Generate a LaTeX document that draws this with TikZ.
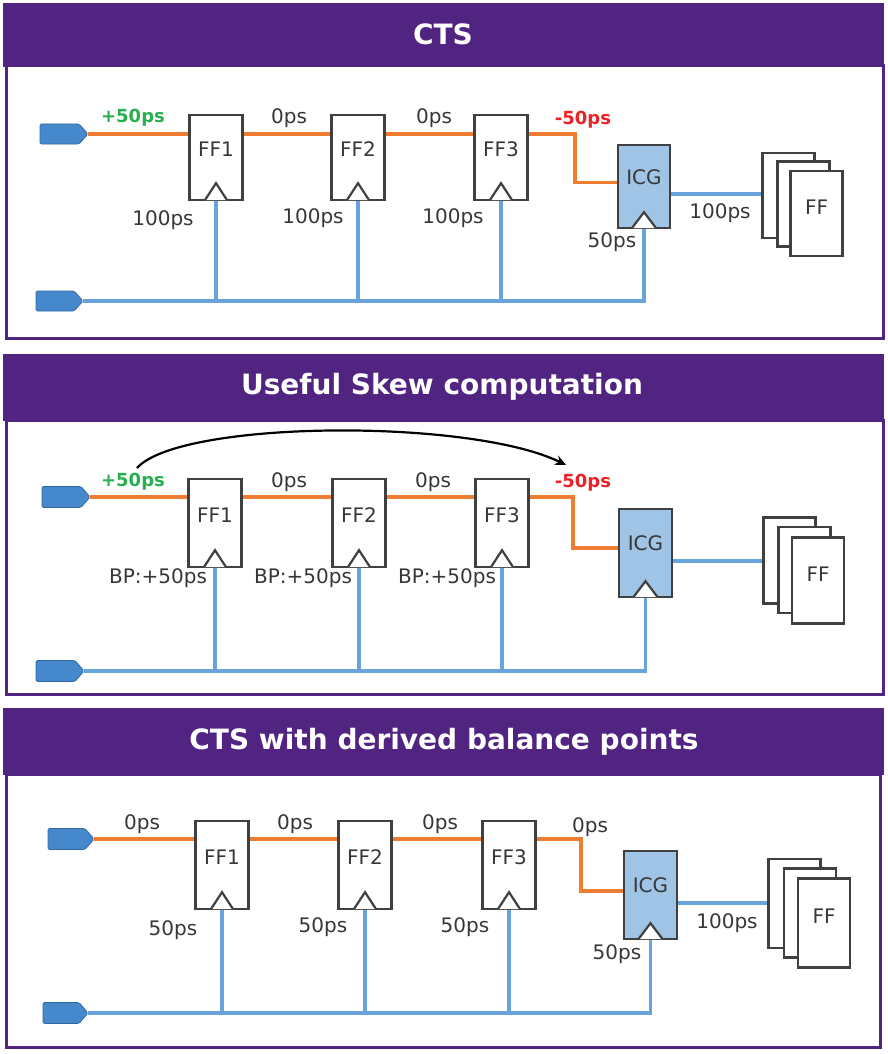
\documentclass[tikz,border=0pt]{standalone}
\usepackage{fontspec}
\setmainfont{DejaVu Sans}
\usetikzlibrary{arrows.meta,calc}
\definecolor{hdrpurple}{RGB}{80,36,128}
\definecolor{wireorange}{RGB}{237,125,49}
\definecolor{wireblue}{RGB}{105,163,220}
\definecolor{portblue}{RGB}{70,136,204}
\definecolor{portedge}{RGB}{50,105,165}
\definecolor{icgfill}{RGB}{160,196,230}
\definecolor{boxgray}{RGB}{64,64,64}
\definecolor{txtgray}{RGB}{55,55,55}
\definecolor{skewgreen}{RGB}{40,175,80}
\definecolor{skewred}{RGB}{235,35,40}
\tikzset{
 hdr/.style={fill=hdrpurple, draw=none},
 panelbody/.style={draw=hdrpurple, line width=3pt, fill=white},
 hdrtext/.style={text=white, font=\fontsize{28}{33}\selectfont\bfseries, inner sep=0pt},
 ffbox/.style={draw=boxgray, line width=2.4pt, fill=white, inner sep=0pt, minimum width=53pt, minimum height=86pt},
 icgbox/.style={ffbox, fill=icgfill, draw=boxgray},
 stackbox/.style={ffbox, minimum width=52pt},
 boxlbl/.style={text=txtgray, font=\fontsize{20}{24}\selectfont, inner sep=0pt},
 lbl/.style={text=txtgray, font=\fontsize{20}{24}\selectfont, inner sep=0pt},
 plbl/.style={text=skewgreen, font=\fontsize{18}{22}\selectfont\bfseries, inner sep=0pt},
 nlbl/.style={text=skewred, font=\fontsize{18}{22}\selectfont\bfseries, inner sep=0pt},
 owire/.style={draw=wireorange, line width=3.2pt},
 bwire/.style={draw=wireblue, line width=3.2pt},
 clktri/.style={draw=boxgray, line width=2.2pt, fill=white, line join=miter},
 portshape/.style={fill=portblue, draw=portedge, line width=0.8pt, rounded corners=1.5pt},
 skewarrow/.style={draw=black, line width=2.2pt, -{Stealth[length=11pt,width=10pt]}},
}
% name, x0, x1, yc, half height
\newcommand{\drawport}[5]{%
 \draw[portshape] (#2,#4-#5) -- (#3-9,#4-#5) -- (#3,#4) -- (#3-9,#4+#5) -- (#2,#4+#5) -- cycle;
 \coordinate (#1) at (#3,#4);}
% node, half width, height
\newcommand{\clk}[3]{%
 \draw[clktri] ([xshift=-#2pt,yshift=1.2pt]#1.south) -- ([yshift=#3pt]#1.south) -- ([xshift=#2pt,yshift=1.2pt]#1.south);}
\begin{document}
\begin{tikzpicture}[x=1pt,y=-1pt]
\useasboundingbox (0,0) rectangle (887,1054);
\fill[white] (0,0) rectangle (887,1054);

%================ PANEL 1 =================
\draw[panelbody] (6,66) rectangle (883,338);
\fill[hdr] (3,3) rectangle (884,67);
\node[hdrtext] (t1) at (443,34) {CTS};
\drawport{pt1}{40}{88}{134}{10}
\drawport{pb1}{36}{83}{301}{10}
\node[ffbox, minimum height=85pt] (a1) at (216,157.5) {};
\node[ffbox, minimum height=85pt] (a2) at (358,157.5) {};
\node[ffbox, minimum height=85pt] (a3) at (501,157.5) {};
\node[icgbox, minimum width=52pt, minimum height=83pt] (g1) at (644,186.5) {};
\node[stackbox, minimum height=85pt] (s1a) at (788.5,195.5) {};
\node[stackbox, minimum height=85pt] (s1b) at (803.5,204) {};
\node[stackbox, minimum height=85pt] (s1c) at (816.5,213.5) {};
\node[boxlbl] (a1t) at ([yshift=8.5pt]a1.center) {FF1};
\node[boxlbl] (a2t) at ([yshift=8.5pt]a2.center) {FF2};
\node[boxlbl] (a3t) at ([yshift=8.5pt]a3.center) {FF3};
\node[boxlbl] (g1t) at ([yshift=9.5pt]g1.center) {ICG};
\node[boxlbl] (s1t) at ([yshift=6.5pt]s1c.center) {FF};
\coordinate (k1) at (575,134);
\draw[owire] (pt1) -- (pt1 -| a1.west);
\draw[owire] (pt1 -| a1.east) -- (pt1 -| a2.west);
\draw[owire] (pt1 -| a2.east) -- (pt1 -| a3.west);
\draw[owire] (pt1 -| a3.east) -- (k1) |- ([yshift=4pt]g1.west);
\draw[bwire] ([yshift=-7.5pt]g1.east) -- ([yshift=-7.5pt]g1.east -| s1a.west);
\draw[bwire] (pb1) -- (pb1 -| g1.south) -- (g1.south);
\draw[bwire] (a1.south) -- (a1.south |- pb1);
\draw[bwire] (a2.south) -- (a2.south |- pb1);
\draw[bwire] (a3.south) -- (a3.south |- pb1);
\clk{a1}{11}{18}
\clk{a2}{11}{18}
\clk{a3}{11}{18}
\clk{g1}{12}{17}
\node[plbl] (l1a) at (133,118) {+50ps};
\node[lbl] (l1b) at (289,118) {0ps};
\node[lbl] (l1c) at (434,118) {0ps};
\node[nlbl] (l1d) at (583,120) {-50ps};
\node[lbl] (l1e) at (163,220) {100ps};
\node[lbl] (l1f) at (313,218) {100ps};
\node[lbl] (l1g) at (453,218) {100ps};
\node[lbl] (l1h) at (612,242) {50ps};
\node[lbl] (l1i) at (720,213) {100ps};

%================ PANEL 2 =================
\draw[panelbody] (6,420) rectangle (883,694);
\fill[hdr] (3,354) rectangle (884,421);
\node[hdrtext] (t2) at (442,387) {Useful Skew computation};
\drawport{pt2}{42}{90}{497}{10.5}
\drawport{pb2}{36}{84}{671}{10.5}
\node[ffbox, minimum height=88pt] (b1) at (215,523) {};
\node[ffbox, minimum height=88pt] (b2) at (359,523) {};
\node[ffbox, minimum height=88pt] (b3) at (502,523) {};
\node[icgbox, minimum width=53pt, minimum height=88pt] (g2) at (645.5,553) {};
\node[stackbox, minimum height=86pt] (s2a) at (789.5,560.5) {};
\node[stackbox, minimum height=86pt] (s2b) at (804.5,570) {};
\node[stackbox, minimum height=86pt] (s2c) at (818,580.5) {};
\node[boxlbl] (b1t) at ([yshift=8pt]b1.center) {FF1};
\node[boxlbl] (b2t) at ([yshift=8pt]b2.center) {FF2};
\node[boxlbl] (b3t) at ([yshift=8pt]b3.center) {FF3};
\node[boxlbl] (g2t) at ([yshift=10pt]g2.center) {ICG};
\node[boxlbl] (s2t) at ([yshift=6.5pt]s2c.center) {FF};
\coordinate (k2) at (573,497);
\draw[owire] (pt2) -- (pt2 -| b1.west);
\draw[owire] (pt2 -| b1.east) -- (pt2 -| b2.west);
\draw[owire] (pt2 -| b2.east) -- (pt2 -| b3.west);
\draw[owire] (pt2 -| b3.east) -- (k2) |- ([yshift=5pt]g2.west);
\draw[bwire] ([yshift=-8pt]g2.east) -- ([yshift=-8pt]g2.east -| s2a.west);
\draw[bwire] (pb2) -- (pb2 -| g2.south) -- (g2.south);
\draw[bwire] (b1.south) -- (b1.south |- pb2);
\draw[bwire] (b2.south) -- (b2.south |- pb2);
\draw[bwire] (b3.south) -- (b3.south |- pb2);
\clk{b1}{11}{18}
\clk{b2}{11}{18}
\clk{b3}{11}{18}
\clk{g2}{12}{17}
\node[plbl] (l2a) at (133,482) {+50ps};
\node[lbl] (l2b) at (289,482) {0ps};
\node[lbl] (l2c) at (433,482) {0ps};
\node[nlbl] (l2d) at (583,483) {-50ps};
\node[lbl] (l2e) at (158,578) {BP:+50ps};
\node[lbl] (l2f) at (303,578) {BP:+50ps};
\node[lbl] (l2g) at (447,578) {BP:+50ps};
\coordinate (arcs) at (137,468);
\coordinate (arce) at (566,465);
\draw[skewarrow] (arcs) .. controls (180,420) and (470,418) .. (arce);

%================ PANEL 3 =================
\draw[panelbody] (6,774) rectangle (880,1047);
\fill[hdr] (3,708) rectangle (884,775);
\node[hdrtext] (t3) at (444,742) {CTS with derived balance points};
\drawport{pt3}{48}{94}{839}{10.5}
\drawport{pb3}{43}{88}{1013}{10.5}
\node[ffbox, minimum height=88pt] (c1) at (222,865) {};
\node[ffbox, minimum height=88pt] (c2) at (365,865) {};
\node[ffbox, minimum height=88pt] (c3) at (509,865) {};
\node[icgbox, minimum width=53pt, minimum height=88pt] (g3) at (650.5,895) {};
\node[stackbox, minimum height=89pt] (s3a) at (794.5,903.5) {};
\node[stackbox, minimum height=89pt] (s3b) at (810,913) {};
\node[stackbox, minimum height=89pt] (s3c) at (824,923) {};
\node[boxlbl] (c1t) at ([yshift=8pt]c1.center) {FF1};
\node[boxlbl] (c2t) at ([yshift=8pt]c2.center) {FF2};
\node[boxlbl] (c3t) at ([yshift=8pt]c3.center) {FF3};
\node[boxlbl] (g3t) at ([yshift=10pt]g3.center) {ICG};
\node[boxlbl] (s3t) at ([yshift=6.5pt]s3c.center) {FF};
\coordinate (k3) at (581,839);
\draw[owire] (pt3) -- (pt3 -| c1.west);
\draw[owire] (pt3 -| c1.east) -- (pt3 -| c2.west);
\draw[owire] (pt3 -| c2.east) -- (pt3 -| c3.west);
\draw[owire] (pt3 -| c3.east) -- (k3) |- ([yshift=4pt]g3.west);
\draw[bwire] ([yshift=-8pt]g3.east) -- ([yshift=-8pt]g3.east -| s3a.west);
\draw[bwire] (pb3) -- (pb3 -| g3.south) -- (g3.south);
\draw[bwire] (c1.south) -- (c1.south |- pb3);
\draw[bwire] (c2.south) -- (c2.south |- pb3);
\draw[bwire] (c3.south) -- (c3.south |- pb3);
\clk{c1}{11}{18}
\clk{c2}{11}{18}
\clk{c3}{11}{18}
\clk{g3}{12}{17}
\node[lbl] (l3a) at (142,824) {0ps};
\node[lbl] (l3b) at (295,824) {0ps};
\node[lbl] (l3c) at (440,824) {0ps};
\node[lbl] (l3d) at (590,827) {0ps};
\node[lbl] (l3e) at (173,930) {50ps};
\node[lbl] (l3f) at (323,927) {50ps};
\node[lbl] (l3g) at (465,927) {50ps};
\node[lbl] (l3h) at (617,954) {50ps};
\node[lbl] (l3i) at (727,923) {100ps};
\end{tikzpicture}
\end{document}
